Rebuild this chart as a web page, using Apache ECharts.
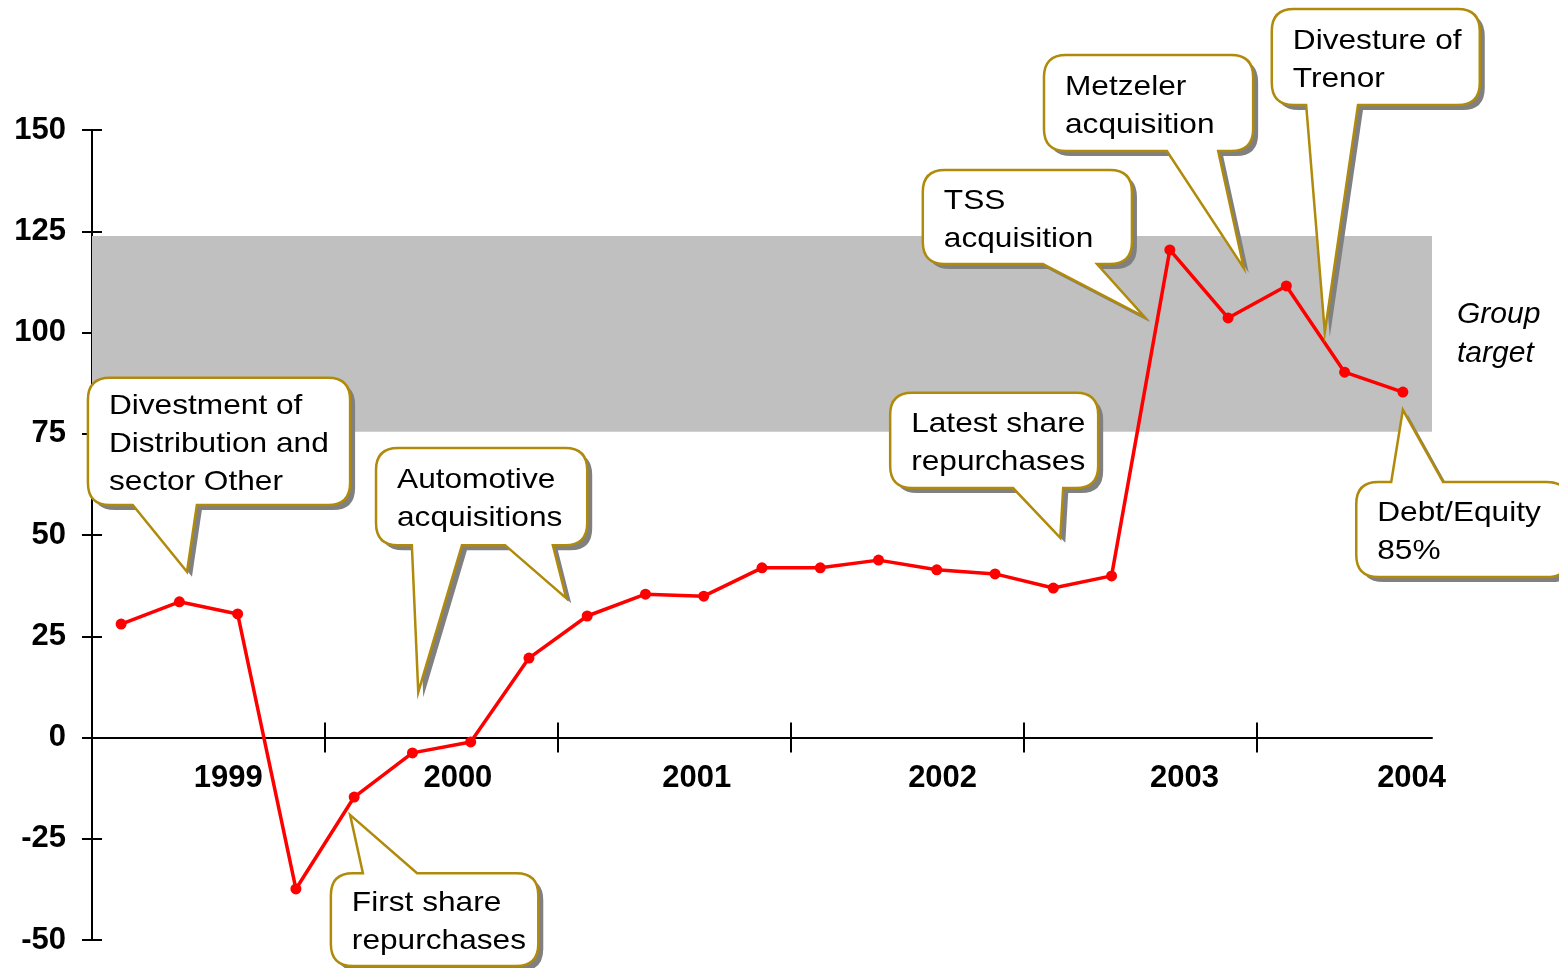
<!DOCTYPE html>
<html>
<head>
<meta charset="utf-8">
<script src="https://cdn.jsdelivr.net/npm/echarts@6/dist/echarts.min.js"></script>
<style>
  html, body { margin: 0; padding: 0; background: #fff; }
  #chart { width: 1559px; height: 968px; }
</style>
</head>
<body>
<div id="chart"></div>
<script>
// debt/equity ratio, one point per quarter
const ratio = [28.0, 33.5, 30.5, -37.4, -14.7, -3.8, -1.1, 19.6, 30.0, 35.4, 34.9,
  41.9, 41.9, 43.8, 41.4, 40.4, 36.9, 39.9, 120.4, 103.6, 111.5, 90.2, 85.3];
const years = ['1999', '2000', '2001', '2002', '2003', '2004'];
const yearLabelPos = [1.84, 5.78, 9.88, 14.1, 18.25, 22.15];
const yearTicks = [3.5, 7.5, 11.5, 15.5, 19.5];
const targetBand = [75.5, 123.8];

// callouts in data units: box = [xLeft, xRight, yTop, yBottom]
const callouts = [
  { lines: ['Divestment of', 'Distribution and', 'sector Other'], box: [-0.57, 3.93, 88.8, 57.4],
    ptr: [{ side: 'bottom', base: [0.20, 1.30], tip: [1.13, 40.9] }] },
  { lines: ['Automotive', 'acquisitions'], box: [4.375, 8.0, 71.5, 47.5],
    ptr: [{ side: 'bottom', base: [6.59, 7.41], tip: [7.64, 34.4] },
          { side: 'bottom', base: [4.99, 5.85], tip: [5.10, 11.2] }] },
  { lines: ['First share', 'repurchases'], box: [3.60, 7.16, -33.5, -56.4],
    ptr: [{ side: 'top', base: [4.15, 5.08], tip: [3.93, -19.1] }] },
  { lines: ['Latest share', 'repurchases'], box: [13.20, 16.77, 85.1, 61.6],
    ptr: [{ side: 'bottom', base: [15.31, 16.17], tip: [16.12, 49.3] }] },
  { lines: ['TSS', 'acquisition'], box: [13.76, 17.35, 140.1, 116.9],
    ptr: [{ side: 'bottom', base: [15.82, 16.75], tip: [17.57, 103.8] }] },
  { lines: ['Metzeler', 'acquisition'], box: [15.84, 19.43, 168.5, 144.8],
    ptr: [{ side: 'bottom', base: [17.95, 18.83], tip: [19.27, 115.9] }] },
  { lines: ['Divesture of', 'Trenor'], box: [19.75, 23.32, 179.9, 156.2],
    ptr: [{ side: 'bottom', base: [20.34, 21.23], tip: [20.66, 100.1] }] },
  { lines: ['Debt/Equity', '85%'], box: [21.20, 24.85, 63.1, 39.6],
    ptr: [{ side: 'top', base: [21.80, 22.69], tip: [22.0, 80.9] }] }
];

function bubblePath(x0, y0, x1, y1, r, ptrs) {
  let d = 'M' + (x0 + r) + ',' + y0;
  ptrs.filter(p => p.side === 'top').sort((a, b) => a.b0 - b.b0).forEach(p => {
    d += ' L' + p.b0 + ',' + y0 + ' L' + p.tip[0] + ',' + p.tip[1] + ' L' + p.b1 + ',' + y0;
  });
  d += ' L' + (x1 - r) + ',' + y0 + ' Q' + x1 + ',' + y0 + ' ' + x1 + ',' + (y0 + r);
  d += ' L' + x1 + ',' + (y1 - r) + ' Q' + x1 + ',' + y1 + ' ' + (x1 - r) + ',' + y1;
  ptrs.filter(p => p.side === 'bottom').sort((a, b) => b.b0 - a.b0).forEach(p => {
    d += ' L' + p.b1 + ',' + y1 + ' L' + p.tip[0] + ',' + p.tip[1] + ' L' + p.b0 + ',' + y1;
  });
  d += ' L' + (x0 + r) + ',' + y1 + ' Q' + x0 + ',' + y1 + ' ' + x0 + ',' + (y1 - r);
  d += ' L' + x0 + ',' + (y0 + r) + ' Q' + x0 + ',' + y0 + ' ' + (x0 + r) + ',' + y0 + ' Z';
  return d;
}

const font = '"Liberation Sans", Arial, sans-serif';
const chart = echarts.init(document.getElementById('chart'));

// y=0 sits 202.5px above the grid bottom (810px for 200 units)
const zeroOffset = -202.5;

const option = {
  animation: false,
  grid: { left: 92, right: 127, top: 130, bottom: 28, outerBoundsMode: 'none', containLabel: false },
  xAxis: [{
    type: 'value', min: -0.5, max: 22.5, position: 'bottom', offset: zeroOffset,
    splitLine: { show: false },
    axisLine: { onZero: false, lineStyle: { color: '#000', width: 2 } },
    axisTick: { customValues: yearTicks, length: 15, lineStyle: { color: '#000', width: 2 } },
    axisLabel: {
      customValues: yearLabelPos, margin: 25,
      formatter: v => years[yearLabelPos.findIndex(p => Math.abs(p - v) < 0.01)] || '',
      fontFamily: font, fontWeight: 'bold', fontSize: 31, color: '#000'
    }
  }, {
    type: 'value', min: -0.5, max: 22.5, position: 'bottom', offset: zeroOffset,
    splitLine: { show: false },
    axisLine: { show: false, onZero: false },
    axisTick: { customValues: yearTicks, inside: true, length: 15, lineStyle: { color: '#000', width: 2 } },
    axisLabel: { show: false }
  }],
  yAxis: [{
    type: 'value', min: -50, max: 150, interval: 25, position: 'left',
    splitLine: { show: false },
    axisLine: { show: true, onZero: false, lineStyle: { color: '#000', width: 2 } },
    axisTick: { show: true, length: 10, lineStyle: { color: '#000', width: 2 } },
    axisLabel: { margin: 26, fontFamily: font, fontWeight: 'bold', fontSize: 31, color: '#000' }
  }, {
    type: 'value', min: -50, max: 150, interval: 25, position: 'left',
    splitLine: { show: false },
    axisLine: { show: false, onZero: false },
    axisTick: { show: true, inside: true, length: 10, lineStyle: { color: '#000', width: 2 } },
    axisLabel: { show: false }
  }],
  series: [{
    name: 'Group target', type: 'line', data: [], clip: false, silent: true,
    markArea: {
      silent: true,
      itemStyle: { color: '#c0c0c0', opacity: 1 },
      label: {
        show: true, position: 'right', distance: 25, formatter: 'Group\ntarget',
        fontFamily: font, fontStyle: 'italic', fontSize: 30, lineHeight: 39, color: '#000', align: 'left'
      },
      data: [[{ xAxis: -0.5, yAxis: targetBand[0] }, { xAxis: 22.64, yAxis: targetBand[1] }]]
    }
  }, {
    name: 'Debt/Equity', type: 'line', z: 5,
    data: ratio.map((v, i) => [i, v]),
    lineStyle: { color: '#ff0000', width: 3.5 },
    itemStyle: { color: '#ff0000' },
    symbol: 'circle', symbolSize: 11, showSymbol: true
  }, {
    type: 'custom', z: 10, clip: false, silent: true,
    data: callouts.map(c => c.ptr[0].tip),
    renderItem: (params, api) => {
      const c = callouts[params.dataIndex];
      const tl = api.coord([c.box[0], c.box[2]]);
      const br = api.coord([c.box[1], c.box[3]]);
      const ptrs = c.ptr.map(p => ({
        side: p.side,
        b0: api.coord([p.base[0], 0])[0],
        b1: api.coord([p.base[1], 0])[0],
        tip: api.coord(p.tip)
      }));
      const d = bubblePath(tl[0], tl[1], br[0], br[1], 22, ptrs);
      return {
        type: 'group',
        children: [
          { type: 'path', x: 5, y: 5, shape: { pathData: d }, style: { fill: '#808080' } },
          { type: 'path', shape: { pathData: d }, style: { fill: '#fff', stroke: '#b08a0a', lineWidth: 2.5 } },
          { type: 'text', x: tl[0] + 21, y: (tl[1] + br[1]) / 2 + 3, scaleX: 1.13,
            style: {
              text: c.lines.join('\n'), x: 0, y: 0,
              align: 'left', verticalAlign: 'middle', font: '28px ' + font, lineHeight: 38, fill: '#000'
          } }
        ]
      };
    }
  }]
};
chart.setOption(option);
</script>
</body>
</html>
